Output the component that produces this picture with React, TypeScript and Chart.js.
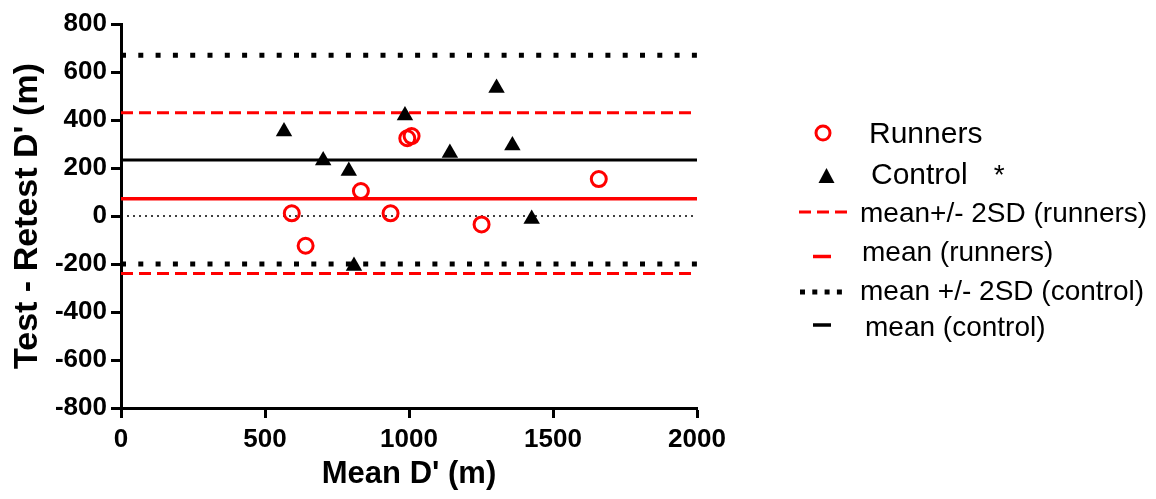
import React, { useEffect, useRef } from "react";
import { Chart, registerables } from "chart.js";

Chart.register(...registerables);

// Runners: mean D' (m) vs test-retest difference (m)
const runnersX = [593, 641, 833, 936, 994, 1009, 1252, 1659];
const runnersY = [11, -124, 104, 11, 324, 333, -35, 154];

// Control group
const controlX = [566, 702, 791, 986, 1304, 1142, 1359, 1426, 809];
const controlY = [352, 231, 187, 419, 533, 262, 294, -12, -208];

// Reference lines (y values)
const runnersMean = 72;
const runnersUpper = 430;
const runnersLower = -240;
const controlMean = 233;
const controlUpper = 670;
const controlLower = -200;
const zeroLine = 0;

const xRange = [0, 2000];
const yRange = [-800, 800];
const xTickStep = 500;
const yTickStep = 200;

const legendLabels = [
  "Runners",
  "Control",
  "mean+/- 2SD (runners)",
  "mean (runners)",
  "mean +/- 2SD (control)",
  "mean (control)",
];

const FONT = "'Liberation Sans', Arial, sans-serif";

function hLine(label: string, y: number, color: string, width: number, dash: number[]) {
  return {
    type: "line" as const,
    label,
    data: [
      { x: xRange[0], y },
      { x: xRange[1], y },
    ],
    borderColor: color,
    borderWidth: width,
    borderDash: dash,
    pointRadius: 0,
    showLine: true,
    fill: false,
    order: 2,
  };
}

export default function App() {
  const canvasRef = useRef<HTMLCanvasElement | null>(null);

  useEffect(() => {
    document.body.style.margin = "0";
    const ctx = canvasRef.current;
    if (!ctx) return;
    const chart = new Chart(ctx, {
      type: "scatter",
      data: {
        datasets: [
          hLine("zero", zeroLine, "#000", 1.5, [2, 4]),
          hLine(legendLabels[2], runnersUpper, "#ff0000", 3, [12, 6]),
          hLine(legendLabels[2] + " low", runnersLower, "#ff0000", 3, [12, 6]),
          hLine(legendLabels[3], runnersMean, "#ff0000", 3.5, []),
          hLine(legendLabels[4], controlUpper, "#000", 5, [5, 12.3]),
          hLine(legendLabels[4] + " low", controlLower, "#000", 5, [5, 12.3]),
          hLine(legendLabels[5], controlMean, "#000", 3, []),
          {
            type: "scatter" as const,
            label: legendLabels[0],
            data: runnersX.map((x, i) => ({ x, y: runnersY[i] })),
            pointStyle: "circle",
            pointRadius: 7.5,
            pointBorderWidth: 3,
            pointBorderColor: "#ff0000",
            pointBackgroundColor: "rgba(0,0,0,0)",
            order: 1,
          },
          {
            type: "scatter" as const,
            label: legendLabels[1],
            data: controlX.map((x, i) => ({ x, y: controlY[i] })),
            pointStyle: "triangle",
            pointRadius: 9.5,
            pointBorderWidth: 0,
            pointBackgroundColor: "#000",
            pointBorderColor: "#000",
            order: 0,
          },
        ],
      },
      options: {
        animation: false,
        responsive: false,
        maintainAspectRatio: false,
        layout: { padding: { left: 0, top: 24, right: 459, bottom: 0 } },
        plugins: {
          legend: { display: false },
          tooltip: { enabled: false },
        },
        scales: {
          x: {
            type: "linear",
            min: xRange[0],
            max: xRange[1],
            afterFit: (s: any) => {
              s.height = 91;
            },
            ticks: {
              stepSize: xTickStep,
              color: "#000",
              padding: 6,
              callback: (v: any) => String(v),
              font: { family: FONT, size: 26, weight: "bold" },
            },
            grid: {
              drawOnChartArea: false,
              drawTicks: true,
              tickLength: 10,
              tickWidth: 3,
              tickColor: "#000",
            },
            border: { display: true, width: 3, color: "#000" },
            title: {
              display: true,
              text: "Mean D' (m)",
              color: "#000",
              font: { family: FONT, size: 31, weight: "bold" },
              padding: { top: 0, bottom: 6 },
            },
          },
          y: {
            type: "linear",
            min: yRange[0],
            max: yRange[1],
            afterFit: (s: any) => {
              s.width = 121;
            },
            ticks: {
              stepSize: yTickStep,
              color: "#000",
              padding: 4,
              callback: (v: any) => String(v),
              font: { family: FONT, size: 26, weight: "bold" },
            },
            grid: {
              drawOnChartArea: false,
              drawTicks: true,
              tickLength: 10,
              tickWidth: 3,
              tickColor: "#000",
            },
            border: { display: true, width: 3, color: "#000" },
            title: {
              display: true,
              text: "Test - Retest D' (m)",
              color: "#000",
              font: { family: FONT, size: 34, weight: "bold" },
              padding: { top: 7, bottom: 0 },
            },
          },
        },
      },
    });
    return () => chart.destroy();
  }, []);

  const textStyle: React.CSSProperties = {
    position: "absolute",
    fontFamily: FONT,
    fontSize: 28,
    color: "#000",
    whiteSpace: "nowrap",
    lineHeight: "32px",
    transform: "translateY(-50%)",
  };

  return (
    <div style={{ position: "relative", width: 1156, height: 499, background: "#fff" }}>
      <canvas ref={canvasRef} width={1156} height={499} style={{ display: "block" }} />
      {/* legend */}
      <svg
        width={1156}
        height={499}
        style={{ position: "absolute", left: 0, top: 0, pointerEvents: "none" }}
      >
        <circle cx={823} cy={133} r={7} fill="none" stroke="#ff0000" strokeWidth={3} />
        <polygon points="826.5,168 818.5,183 834.5,183" fill="#000" />
        <line x1={799} y1={212} x2={848} y2={212} stroke="#ff0000" strokeWidth={3} strokeDasharray="12 6" />
        <line x1={813} y1={256.5} x2={831} y2={256.5} stroke="#ff0000" strokeWidth={3.5} />
        <line x1={800} y1={292} x2={843} y2={292} stroke="#000" strokeWidth={5} strokeDasharray="5 7.3" />
        <line x1={813} y1={325} x2={831} y2={325} stroke="#000" strokeWidth={3.5} />
      </svg>
      <div style={{ ...textStyle, left: 869, top: 133, fontSize: 30 }}>{legendLabels[0]}</div>
      <div style={{ ...textStyle, left: 871, top: 174, fontSize: 30 }}>
        {legendLabels[1]}
        <span style={{ marginLeft: 26, fontSize: 28 }}>*</span>
      </div>
      <div style={{ ...textStyle, left: 860, top: 213 }}>{legendLabels[2]}</div>
      <div style={{ ...textStyle, left: 862, top: 252 }}>{legendLabels[3]}</div>
      <div style={{ ...textStyle, left: 860, top: 291 }}>{legendLabels[4]}</div>
      <div style={{ ...textStyle, left: 865, top: 327 }}>{legendLabels[5]}</div>
    </div>
  );
}
